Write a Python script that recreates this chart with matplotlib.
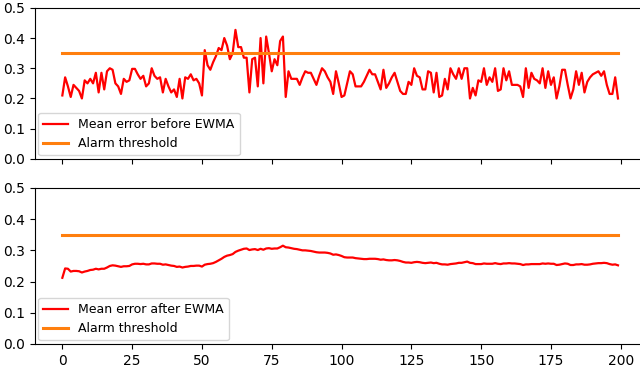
import numpy as np
import matplotlib
matplotlib.use("Agg")
import matplotlib.pyplot as plt

# mean error per step
before_ewma = [
    0.21, 0.27, 0.24, 0.205, 0.245, 0.235, 0.225, 0.20, 0.26, 0.25,
    0.265, 0.25, 0.285, 0.22, 0.285, 0.23, 0.29, 0.30, 0.295, 0.25,
    0.24, 0.215, 0.265, 0.255, 0.26, 0.298, 0.298, 0.28, 0.265, 0.275,
    0.24, 0.25, 0.30, 0.275, 0.265, 0.27, 0.22, 0.265, 0.24, 0.22,
    0.23, 0.205, 0.265, 0.20, 0.27, 0.265, 0.28, 0.26, 0.265, 0.25,
    0.21, 0.36, 0.31, 0.295, 0.32, 0.34, 0.367, 0.36, 0.40, 0.375,
    0.33, 0.35, 0.427, 0.37, 0.37, 0.335, 0.335, 0.22, 0.33, 0.335,
    0.24, 0.40, 0.25, 0.405, 0.35, 0.29, 0.33, 0.31, 0.39, 0.405,
    0.205, 0.29, 0.265, 0.265, 0.265, 0.245, 0.27, 0.29, 0.285, 0.285,
    0.265, 0.245, 0.275, 0.30, 0.29, 0.27, 0.255, 0.215, 0.29, 0.25,
    0.205, 0.21, 0.25, 0.29, 0.28, 0.24, 0.24, 0.24, 0.255, 0.275,
    0.295, 0.28, 0.28, 0.255, 0.23, 0.295, 0.235, 0.25, 0.27, 0.285,
    0.255, 0.225, 0.215, 0.215, 0.255, 0.245, 0.30, 0.275, 0.27, 0.23,
    0.23, 0.29, 0.285, 0.22, 0.285, 0.205, 0.21, 0.265, 0.23, 0.30,
    0.28, 0.265, 0.30, 0.265, 0.30, 0.30, 0.20, 0.235, 0.21, 0.26,
    0.255, 0.30, 0.245, 0.27, 0.255, 0.30, 0.225, 0.23, 0.30, 0.26,
    0.29, 0.245, 0.245, 0.245, 0.24, 0.205, 0.30, 0.235, 0.285, 0.265,
    0.26, 0.25, 0.30, 0.235, 0.29, 0.245, 0.27, 0.20, 0.24, 0.295,
    0.295, 0.245, 0.20, 0.23, 0.29, 0.245, 0.285, 0.22, 0.255, 0.27,
    0.28, 0.285, 0.29, 0.275, 0.29, 0.245, 0.215, 0.215, 0.27, 0.20,
]

after_ewma = [
    0.212, 0.242, 0.241, 0.232, 0.234, 0.234, 0.233, 0.229, 0.232, 0.234,
    0.237, 0.238, 0.241, 0.239, 0.241, 0.241, 0.245, 0.250, 0.252, 0.251,
    0.249, 0.247, 0.249, 0.249, 0.250, 0.255, 0.257, 0.257, 0.256, 0.257,
    0.255, 0.255, 0.258, 0.258, 0.257, 0.257, 0.254, 0.255, 0.253, 0.251,
    0.250, 0.247, 0.248, 0.245, 0.247, 0.248, 0.250, 0.250, 0.251, 0.251,
    0.248, 0.254, 0.256, 0.257, 0.259, 0.263, 0.268, 0.273, 0.279, 0.283,
    0.285, 0.288, 0.295, 0.299, 0.302, 0.305, 0.306, 0.301, 0.303, 0.304,
    0.301, 0.305, 0.302, 0.306, 0.307, 0.305, 0.306, 0.306, 0.310, 0.315,
    0.310, 0.309, 0.307, 0.305, 0.304, 0.302, 0.300, 0.300, 0.299, 0.298,
    0.296, 0.294, 0.293, 0.293, 0.293, 0.292, 0.290, 0.286, 0.287, 0.285,
    0.282, 0.278, 0.277, 0.277, 0.277, 0.275, 0.274, 0.273, 0.272, 0.272,
    0.273, 0.273, 0.273, 0.272, 0.270, 0.271, 0.269, 0.268, 0.268, 0.269,
    0.268, 0.266, 0.263, 0.261, 0.261, 0.260, 0.262, 0.263, 0.262, 0.260,
    0.259, 0.260, 0.261, 0.259, 0.260, 0.257, 0.255, 0.255, 0.254, 0.256,
    0.257, 0.258, 0.260, 0.260, 0.262, 0.264, 0.260, 0.259, 0.256, 0.256,
    0.256, 0.258, 0.257, 0.257, 0.257, 0.259, 0.257, 0.256, 0.258, 0.258,
    0.259, 0.258, 0.258, 0.257, 0.256, 0.253, 0.255, 0.255, 0.256, 0.256,
    0.256, 0.256, 0.258, 0.257, 0.258, 0.257, 0.257, 0.253, 0.254, 0.256,
    0.258, 0.257, 0.253, 0.253, 0.255, 0.255, 0.256, 0.254, 0.254, 0.255,
    0.257, 0.258, 0.259, 0.259, 0.260, 0.259, 0.256, 0.254, 0.255, 0.252,
]

threshold = 0.35
steps = np.arange(len(before_ewma))

fig = plt.figure(figsize=(6.4, 3.73), dpi=100)
ax1 = fig.add_axes([0.054, 0.574, 0.955, 0.405])
ax2 = fig.add_axes([0.054, 0.078, 0.955, 0.418], sharex=ax1)

ax1.plot(steps, before_ewma, 'r-', linewidth=1.6, label='Mean error before EWMA')
ax1.plot(steps, [threshold] * len(steps), color='tab:orange', linewidth=2.2, label='Alarm threshold')
ax1.set_ylim(0, 0.5)
ax1.set_xlim(-9.95, 208.95)
ax1.legend(loc='lower left', fontsize=9, borderaxespad=0.3)
plt.setp(ax1.get_xticklabels(), visible=False)

ax2.plot(steps, after_ewma, 'r-', linewidth=1.6, label='Mean error after EWMA')
ax2.plot(steps, [threshold] * len(steps), color='tab:orange', linewidth=2.2, label='Alarm threshold')
ax2.set_ylim(0, 0.5)
ax2.set_xticks([0, 25, 50, 75, 100, 125, 150, 175, 200])
ax2.legend(loc='lower left', fontsize=9, borderaxespad=0.3)

fig.savefig('out.png', dpi=100)
